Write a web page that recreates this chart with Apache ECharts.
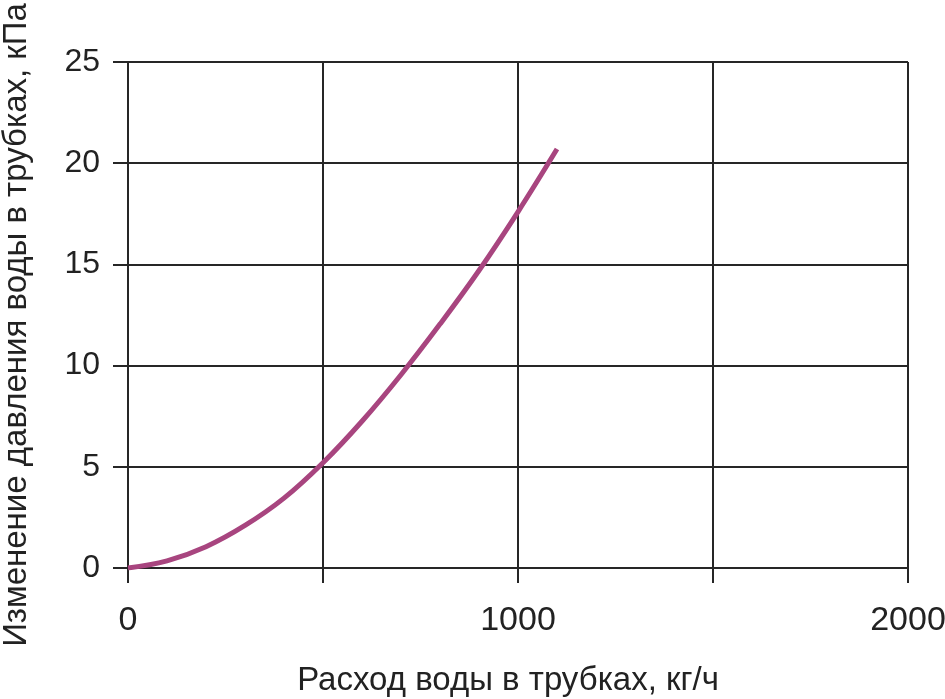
<!DOCTYPE html>
<html>
<head>
<meta charset="utf-8">
<script src="https://cdn.jsdelivr.net/npm/echarts@6/dist/echarts.min.js"></script>
<style>html,body{margin:0;padding:0;background:#fff}#c{width:945px;height:699px}</style>
</head>
<body>
<div id="c"></div>
<script>
const flowValues = [0, 100, 200, 300, 400, 500, 600, 700, 800, 900, 1000, 1100];
const pressureValues = [0, 0.35, 1.05, 2.1, 3.45, 5.2, 7.25, 9.55, 12.05, 14.7, 17.6, 20.7];
const xTickLabels = ['0', '1000', '2000'];
const xAxisTitle = 'Расход воды в трубках, кг/ч';
const yAxisTitle = 'Изменение давления воды в трубках, кПа';

const seriesData = flowValues.map((x, i) => [x, pressureValues[i]]);
const gridColor = '#262626';
const font = 'Liberation Sans, Arial, sans-serif';
const chart = echarts.init(document.getElementById('c'));
chart.setOption({
  animation: false,
  backgroundColor: '#ffffff',
  grid: { left: 128, right: 37, top: 62, bottom: 131, containLabel: false, outerBoundsMode: 'none' },
  xAxis: {
    type: 'value', min: 0, max: 2000, interval: 500,
    name: xAxisTitle, nameLocation: 'middle', nameGap: 96,
    nameTextStyle: { fontFamily: font, fontSize: 33, color: '#222', padding: [0, 20, 0, 0] },
    axisLine: { show: true, lineStyle: { color: gridColor, width: 2 } },
    axisTick: { show: true, inside: false, length: 15, lineStyle: { color: gridColor, width: 2 } },
    axisLabel: {
      margin: 36, fontFamily: font, fontSize: 34, color: '#222',
      formatter: v => xTickLabels.includes(String(v)) ? String(v) : ''
    },
    splitLine: { show: true, lineStyle: { color: gridColor, width: 2 } }
  },
  yAxis: {
    type: 'value', min: 0, max: 25, interval: 5,
    name: yAxisTitle, nameLocation: 'middle', nameGap: 95,
    nameTextStyle: { fontFamily: font, fontSize: 33, color: '#222', padding: [0, 20, 0, 0] },
    axisLine: { show: true, lineStyle: { color: gridColor, width: 2 } },
    axisTick: { show: true, inside: false, length: 15, lineStyle: { color: gridColor, width: 2 } },
    axisLabel: { margin: 28, fontFamily: font, fontSize: 32, color: '#222' },
    splitLine: { show: true, lineStyle: { color: gridColor, width: 2 } }
  },
  series: [{
    type: 'line', data: seriesData, smooth: 0.4, showSymbol: false,
    lineStyle: { color: '#a8457f', width: 5, cap: 'butt' }
  }]
});
</script>
</body>
</html>
